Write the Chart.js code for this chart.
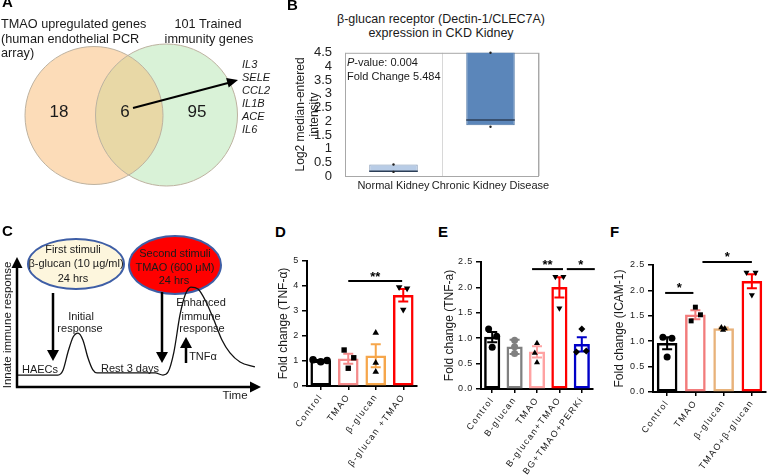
<!DOCTYPE html>
<html>
<head>
<meta charset="utf-8">
<title>TMAO trained immunity figure</title>
<script src="https://cdn.jsdelivr.net/npm/chart.js@4.4.1/dist/chart.umd.min.js"></script>
<style>
  html, body { margin: 0; padding: 0; background: #fff; }
  #fig { position: relative; width: 767px; height: 475px; overflow: hidden;
         font-family: "Liberation Sans", Arial, sans-serif; color: #1a1a1a; }
  #fig canvas { position: absolute; }
  .t { position: absolute; white-space: nowrap; line-height: 1.15; }
  .c { transform: translate(-50%, -50%); text-align: center; }
  .l { transform: translate(0, -50%); }
  .letter { position: absolute; font-weight: bold; font-size: 15px; line-height: 15px; color: #000; }
  .ell { position: absolute; border-radius: 50%; box-sizing: border-box; border: 2px solid #3e5ea6; }
  svg { position: absolute; left: 0; top: 0; }
</style>
</head>
<body>
<div id="fig">
  <!-- panel A -->
  <canvas id="venn" width="260" height="200" style="left:0;top:0"></canvas>
  <div class="t l" style="left:1px;top:24px;font-size:12.7px">TMAO upregulated genes</div>
  <div class="t l" style="left:1px;top:39px;font-size:12.7px">(human endothelial PCR</div>
  <div class="t l" style="left:1px;top:53px;font-size:12.7px">array)</div>
  <div class="t c" style="left:208px;top:24px;font-size:12.7px">101 Trained</div>
  <div class="t c" style="left:209px;top:39px;font-size:12.7px">immunity genes</div>
  <div id="vennNums"></div>
  <div id="geneList"></div>

  <!-- panel B -->
  <canvas id="boxB" width="275" height="155" style="left:288px;top:40px"></canvas>
  <div class="t c" style="left:441px;top:19px;font-size:12.5px">β-glucan receptor (Dectin-1/CLEC7A)</div>
  <div class="t c" style="left:441px;top:33px;font-size:12.5px">expression in CKD Kidney</div>
  <div class="t l" style="left:347px;top:62px;font-size:11px"><i>P</i>-value: 0.004</div>
  <div class="t l" style="left:347px;top:76px;font-size:11px">Fold Change 5.484</div>

  <!-- panel C -->
  <div class="ell" style="left:27px;top:238px;width:98px;height:52px;background:#fdf6dd"></div>
  <div class="ell" style="left:128px;top:235px;width:94px;height:60px;background:#ff0000"></div>
  <canvas id="schem" width="262" height="180" style="left:0;top:228px"></canvas>
  <div class="t c" style="left:73px;top:249px;font-size:11px">First stimuli</div>
  <div class="t c" style="left:76px;top:263px;font-size:11px">β-glucan (10 µg/ml)</div>
  <div class="t c" style="left:73px;top:278px;font-size:11px">24 hrs</div>
  <div class="t c" style="left:175px;top:253px;font-size:11px">Second stimuli</div>
  <div class="t c" style="left:175px;top:267px;font-size:11px">TMAO (600 μM)</div>
  <div class="t c" style="left:174px;top:280px;font-size:11px">24 hrs</div>
  <div class="t c" style="left:81px;top:316px;font-size:11px">Initial</div>
  <div class="t c" style="left:80px;top:328px;font-size:11px">response</div>
  <div class="t c" style="left:201px;top:302px;font-size:11px">Enhanced</div>
  <div class="t c" style="left:201px;top:316px;font-size:11px">immune</div>
  <div class="t c" style="left:202px;top:328px;font-size:11px">response</div>
  <div class="t c" style="left:40px;top:369px;font-size:11px">HAECs</div>
  <div class="t c" style="left:130px;top:368px;font-size:11px">Rest 3 days</div>
  <div class="t c" style="left:203px;top:356px;font-size:11px">TNFα</div>
  <div class="t c" style="left:235px;top:396px;font-size:11.5px">Time</div>
  <div class="t c" style="left:8px;top:325px;font-size:11.5px;transform:translate(-50%,-50%) rotate(-90deg)">Innate immune response</div>

  <!-- panels D, E, F -->
  <canvas id="barD" width="160" height="230" style="left:262px;top:245px"></canvas>
  <canvas id="barE" width="170" height="230" style="left:428px;top:245px"></canvas>
  <canvas id="barF" width="172" height="230" style="left:598px;top:245px"></canvas>

  <div class="letter" style="left:2px;top:-6px">A</div>
  <div class="letter" style="left:287px;top:-3px">B</div>
  <div class="letter" style="left:2px;top:223px">C</div>
  <div class="letter" style="left:275px;top:224px">D</div>
  <div class="letter" style="left:438px;top:224px">E</div>
  <div class="letter" style="left:610px;top:224px">F</div>

  <svg width="767" height="475">
    <g stroke="#000" stroke-width="2" fill="#000">
      <line x1="133" y1="108" x2="228" y2="83"/>
      <polygon points="238,80 228.7,87.6 226.1,78" stroke="none"/>
    </g>
    <g stroke="#000" stroke-width="2.5" fill="#000">
      <line x1="53" y1="293" x2="53" y2="351"/>
      <polygon points="47,350 59,350 53,361" stroke="none"/>
      <line x1="162" y1="292" x2="162" y2="353"/>
      <polygon points="156,352 168,352 162,363" stroke="none"/>
      <line x1="186" y1="363" x2="186" y2="347"/>
      <polygon points="180,348 192,348 186,337" stroke="none"/>
    </g>
  </svg>
</div>

<script>
// ---------- data ----------
// A: Venn of TMAO-upregulated vs trained-immunity genes
const vennCounts = [18, 6, 95];          // TMAO only, shared, trained only
const sharedGenes = ['IL3', 'SELE', 'CCL2', 'IL1B', 'ACE', 'IL6'];

// B: CLEC7A expression box plot
const boxCats = ['Normal Kidney', 'Chronic Kidney Disease'];
const boxLow = [0.15, 1.85];
const boxHigh = [0.42, 4.6];
const boxMedian = [0.17, 2.05];
const whiskerMin = [0.15, 1.8];
const whiskerMax = [0.42, 4.5];
const boxTicks = [0, 0.5, 1, 1.5, 2, 2.5, 3, 3.5, 4, 4.5];

// C: schematic immune response over time
const curveT = [0, 16.8, 18.9, 20.9, 23.0, 25.0, 27.0, 29.1, 31.1, 32.8, 56.6, 59.8,
                61.9, 64.3, 66.8, 68.9, 71.3, 74.2, 77.5, 80.7, 84.0, 87.3, 91.4, 97.5];
const curveResp = [9.2, 9.2, 13.1, 26.9, 38.5, 41.5, 36.2, 22.3, 13.1, 10.8, 10.8, 9.2,
                   11.5, 26.9, 55.4, 70.8, 76.9, 75.4, 65.4, 51.5, 36.2, 26.2, 19.2, 15.4];

// D: TNF-α fold change
const dLabels = ['Control', 'TMAO', 'β-glucan', 'β-glucan +TMAO'];
const dMeans = [1.01, 1.09, 1.21, 3.63];
const dSem = [0.03, 0.2, 0.46, 0.25];
const dPoints = [[1.05, 0.97, 1.02], [1.44, 1.13, 0.71], [2.13, 0.93, 0.57], [3.95, 3.9, 3.05]];
const dTicks = [0, 1, 2, 3, 4, 5];

// E: TNF-a fold change with PERK inhibitor
const eLabels = ['Control', 'B-glucan', 'TMAO', 'B-glucan+TMAO', 'BG+TMAO+PERKi'];
const eMeans = [1.02, 0.83, 0.73, 2.0, 0.88];
const eSem = [0.1, 0.14, 0.11, 0.2, 0.14];
const ePoints = [[1.18, 1.04, 0.82], [0.96, 0.83, 0.7], [0.9, 0.71, 0.52], [2.21, 2.21, 1.59], [1.18, 0.73, 0.75]];
const eTicks = [0, 0.5, 1, 1.5, 2, 2.5];

// F: ICAM-1 fold change
const fLabels = ['Control', 'TMAO', 'β-glucan', 'TMAO+β-glucan'];
const fMeans = [0.96, 1.52, 1.25, 2.18];
const fSem = [0.12, 0.09, 0.02, 0.14];
const fPoints = [[1.08, 1.06, 0.69], [1.67, 1.52, 1.4], [1.27, 1.25, 1.22], [2.35, 2.35, 1.91]];
const fTicks = [0, 0.5, 1, 1.5, 2, 2.5];

// ---------- defaults ----------
const FONT = '"Liberation Sans", Arial, sans-serif';
Chart.defaults.font.family = FONT;
Chart.defaults.color = '#1a1a1a';
Chart.defaults.animation = false;
Chart.defaults.responsive = false;
Chart.defaults.plugins.legend.display = false;
Chart.defaults.plugins.tooltip.enabled = false;

// ---------- panel A ----------
// circle centres are scatter points (zero radius); the plugin draws the discs in scale units
const vennCircles = {
  id: 'vennCircles',
  beforeDatasetsDraw(chart) {
    const ctx = chart.ctx, sx = chart.scales.x;
    const pts = chart.getDatasetMeta(0).data;
    const raw = chart.data.datasets[0].data;
    const disc = i => {
      const r = sx.getPixelForValue(raw[i].x + raw[i].r) - pts[i].x;
      ctx.beginPath(); ctx.arc(pts[i].x, pts[i].y, r, 0, Math.PI * 2);
    };
    const fills = ['#fcdcb8', '#d9f2d7'];
    ctx.save();
    pts.forEach((p, i) => { disc(i); ctx.fillStyle = fills[i]; ctx.fill(); });
    ctx.save(); disc(0); ctx.clip(); disc(1); ctx.fillStyle = '#e8d8a6'; ctx.fill(); ctx.restore();
    ctx.strokeStyle = '#bdb2a0'; ctx.lineWidth = 1;
    pts.forEach((p, i) => { disc(i); ctx.stroke(); });
    ctx.restore();
  }
};

new Chart(document.getElementById('venn'), {
  type: 'scatter',
  data: { datasets: [{ data: [{ x: 94, y: 115.5, r: 69 }, { x: 166.5, y: 115, r: 71 }], pointRadius: 0 }] },
  options: {
    layout: { padding: 0 },
    scales: {
      x: { display: false, min: 0, max: 260 },
      y: { display: false, min: 0, max: 200, reverse: true }
    }
  },
  plugins: [vennCircles]
});

const numX = [59, 125, 197];
document.getElementById('vennNums').innerHTML = vennCounts.map((n, i) =>
  `<div class="t c" style="left:${numX[i]}px;top:112px;font-size:17px">${n}</div>`).join('');
document.getElementById('geneList').innerHTML = sharedGenes.map((g, i) =>
  `<div class="t l" style="left:242px;top:${64 + i * 12.9}px;font-size:11px;font-style:italic">${g}</div>`).join('');

// ---------- panel B ----------
const boxParts = {
  id: 'boxParts',
  beforeDatasetsDraw(chart) {
    const { ctx, chartArea: a } = chart;
    ctx.save();
    ctx.strokeStyle = '#a8a8a8'; ctx.lineWidth = 1;
    ctx.strokeRect(a.left + 0.5, a.top + 0.5, a.width - 1, a.height);
    ctx.restore();
  },
  afterDatasetsDraw(chart) {
    const ctx = chart.ctx, y = chart.scales.y, a = chart.chartArea;
    chart.getDatasetMeta(0).data.forEach((bar, i) => {
      const half = bar.width / 2;
      ctx.save();
      ctx.beginPath(); ctx.rect(a.left, a.top, a.width, a.height); ctx.clip();
      ctx.strokeStyle = '#2c3e57'; ctx.lineWidth = 1.5;
      const ym = y.getPixelForValue(boxMedian[i]);
      ctx.beginPath(); ctx.moveTo(bar.x - half, ym); ctx.lineTo(bar.x + half, ym); ctx.stroke();
      ctx.restore();
      ctx.save();
      ctx.fillStyle = '#222';
      [whiskerMin[i], whiskerMax[i]].forEach(v => {
        ctx.beginPath(); ctx.arc(bar.x, y.getPixelForValue(v), 1.2, 0, Math.PI * 2); ctx.fill();
      });
      ctx.restore();
    });
  }
};

new Chart(document.getElementById('boxB'), {
  type: 'bar',
  data: {
    labels: boxCats,
    datasets: [
      { data: boxLow.map((v, i) => [v, boxHigh[i]]),
        backgroundColor: ['#b8cce6', '#5b86ba'], borderColor: ['#8097b5', '#4c74a4'],
        borderWidth: 1, borderSkipped: false, barPercentage: 0.5, categoryPercentage: 1 }
    ]
  },
  options: {
    layout: { padding: { top: 12, right: 24, left: 0, bottom: 0 } },
    scales: {
      x: {
        grid: { offset: true, color: '#d8d8d8', drawTicks: false },
        border: { display: false },
        ticks: { font: { size: 11 }, padding: 3, color: '#222', maxRotation: 0, minRotation: 0, autoSkip: false },
        afterFit: s => { s.height = 19; }
      },
      y: {
        min: 0, max: 4.5,
        afterBuildTicks: s => { s.ticks = boxTicks.map(v => ({ value: v })); },
        ticks: { font: { size: 13 }, padding: 5, color: '#222', autoSkip: false, callback: v => String(v) },
        grid: { display: false },
        border: { display: false },
        title: { display: true, text: ['Log2 median-entered', 'intensity'], font: { size: 12 },
                 color: '#222', padding: { top: 5, bottom: 0 } },
        afterFit: s => { s.width = 57; }
      }
    }
  },
  plugins: [boxParts]
});

// ---------- panel C ----------
const axisArrows = {
  id: 'axisArrows',
  afterDraw(chart) {
    const { ctx, chartArea: a } = chart;
    ctx.save();
    ctx.strokeStyle = '#000'; ctx.fillStyle = '#000'; ctx.lineWidth = 2.5;
    ctx.beginPath();
    ctx.moveTo(a.left, a.bottom); ctx.lineTo(a.left, a.top + 10);
    ctx.moveTo(a.left - 1.2, a.bottom); ctx.lineTo(a.right - 10, a.bottom);
    ctx.stroke();
    ctx.beginPath(); ctx.moveTo(a.left - 5.5, a.top + 11); ctx.lineTo(a.left + 5.5, a.top + 11); ctx.lineTo(a.left, a.top); ctx.fill();
    ctx.beginPath(); ctx.moveTo(a.right - 11, a.bottom - 5.5); ctx.lineTo(a.right - 11, a.bottom + 5.5); ctx.lineTo(a.right, a.bottom); ctx.fill();
    ctx.restore();
  }
};

new Chart(document.getElementById('schem'), {
  type: 'scatter',
  data: { datasets: [{
    data: curveT.map((t, i) => ({ x: t, y: curveResp[i] })),
    showLine: true, pointRadius: 0, borderColor: '#111', borderWidth: 1.3,
    cubicInterpolationMode: 'monotone', clip: false
  }]},
  options: {
    layout: { padding: { left: 17, top: 29, right: 1, bottom: 21 } },
    scales: {
      x: { type: 'linear', display: false, min: 0, max: 100 },
      y: { display: false, min: 0, max: 100 }
    }
  },
  plugins: [axisArrows]
});

// ---------- panels D, E, F ----------
// groups sit at integer positions of a linear x scale, so bars, dots and significance bars share one mapping
function barPanel(canvasId, p) {
  const n = p.labels.length;
  const datasets = [{
    type: 'bar', data: p.means.map((m, i) => ({ x: i, y: m })),
    backgroundColor: '#fff', borderColor: p.colors,
    borderWidth: 2.5, borderSkipped: false, barThickness: p.barW, order: 2
  }];
  p.points.forEach((vals, i) => {
    const down = p.shapes[i] === 'down';
    datasets.push({
      type: 'scatter', order: 0, clip: false,
      data: vals.map((v, j) => ({ x: i + p.jitter[i][j], y: v })),
      pointStyle: down ? 'triangle' : p.shapes[i],
      pointRotation: down ? 180 : 0,
      pointRadius: p.pointR,
      pointBackgroundColor: p.pointColors[i], pointBorderWidth: 0
    });
  });

  const extras = {
    id: 'extras',
    afterLayout(chart) {
      ['x', 'y'].forEach(k => {
        const s = chart.scales[k];
        if (s.__spaced) return;
        const draw = s.drawLabels;
        s.drawLabels = function (area) {
          this.ctx.letterSpacing = k === 'x' ? '1.4px' : '0.8px';
          draw.call(this, area);
          this.ctx.letterSpacing = '0px';
        };
        s.__spaced = true;
      });
    },
    afterDatasetDraw(chart, args) {
      if (args.index !== 0) return;
      const ctx = chart.ctx, y = chart.scales.y;
      chart.getDatasetMeta(0).data.forEach((bar, i) => {
        const yt = y.getPixelForValue(p.means[i] + p.sem[i]);
        const yb = y.getPixelForValue(p.means[i] - p.sem[i]);
        ctx.save();
        ctx.strokeStyle = p.colors[i]; ctx.lineWidth = 2;
        ctx.beginPath();
        ctx.moveTo(bar.x, yt); ctx.lineTo(bar.x, yb);
        ctx.moveTo(bar.x - 5, yt); ctx.lineTo(bar.x + 5, yt);
        ctx.moveTo(bar.x - 5, yb); ctx.lineTo(bar.x + 5, yb);
        ctx.stroke();
        ctx.restore();
      });
    },
    afterDraw(chart) {
      const ctx = chart.ctx, xs = chart.scales.x, y = chart.scales.y;
      p.sigFrom.forEach((a, k) => {
        const x1 = xs.getPixelForValue(a), x2 = xs.getPixelForValue(p.sigTo[k]);
        const yy = y.getPixelForValue(p.sigY[k]);
        ctx.save();
        ctx.strokeStyle = '#000'; ctx.fillStyle = '#000'; ctx.lineWidth = 2;
        ctx.beginPath(); ctx.moveTo(x1, yy); ctx.lineTo(x2, yy); ctx.stroke();
        ctx.font = 'bold 13px ' + FONT; ctx.textAlign = 'center';
        ctx.fillText(p.sigText[k], (x1 + x2) / 2, yy - 0.5);
        ctx.restore();
      });
    }
  };

  return new Chart(document.getElementById(canvasId), {
    type: 'bar',
    data: { datasets },
    options: {
      layout: { padding: { top: p.padTop, right: p.padRight, left: 0, bottom: 0 } },
      scales: {
        x: {
          type: 'linear', min: -0.5, max: n - 0.5, offset: false,
          afterBuildTicks: s => { s.ticks = p.labels.map((_, i) => ({ value: i })); },
          grid: { offset: false, drawOnChartArea: false, tickLength: 4, color: '#000', lineWidth: 1.5 },
          border: { color: '#000', width: 2 },
          ticks: { font: { size: 9 }, minRotation: 53, maxRotation: 53, padding: 2, autoSkip: false,
                   color: '#1a1a1a', callback: v => p.labels[Math.round(v)] },
          afterFit: s => { s.height = p.xH; }
        },
        y: {
          min: 0, max: p.yMax,
          afterBuildTicks: s => { s.ticks = p.ticks.map(v => ({ value: v })); },
          ticks: { font: { size: 9 }, padding: 3, color: '#1a1a1a', autoSkip: false, callback: p.fmt },
          grid: { drawOnChartArea: false, tickLength: 5, color: '#000', lineWidth: 1.5 },
          border: { color: '#000', width: 2 },
          title: { display: true, text: p.yTitle, font: { size: 12 }, color: '#1a1a1a', padding: { top: 14, bottom: 0 } },
          afterFit: s => { s.width = p.yW; }
        }
      }
    },
    plugins: [extras]
  });
}

barPanel('barD', {
  labels: dLabels, means: dMeans, sem: dSem, points: dPoints, ticks: dTicks, yMax: 5,
  fmt: v => String(v), yTitle: 'Fold change (TNF-α)',
  colors: ['#000000', '#f48a8a', '#f6a64b', '#ff0000'],
  pointColors: ['#000', '#000', '#000', '#000'],
  shapes: ['circle', 'rect', 'triangle', 'down'], pointR: 3.8,
  jitter: [[-0.28, 0, 0.23], [-0.15, 0.2, 0], [0, 0, 0], [-0.15, 0.14, 0]],
  sigFrom: [1.0], sigTo: [2.96], sigY: [4.2], sigText: ['**'],
  barW: 20, padTop: 16, padRight: 5, yW: 45, xH: 89
});

barPanel('barE', {
  labels: eLabels, means: eMeans, sem: eSem, points: ePoints, ticks: eTicks, yMax: 2.5,
  fmt: v => v.toFixed(1), yTitle: 'Fold change (TNF-a)',
  colors: ['#000000', '#808080', '#ffa3a3', '#ff0000', '#0000c8'],
  pointColors: ['#000', '#808080', '#000', '#000', '#000'],
  shapes: ['circle', 'circle', 'triangle', 'down', 'rectRot'], pointR: 3.5,
  jitter: [[-0.16, 0.2, 0], [0, 0, 0], [0, -0.1, 0], [-0.18, 0.18, 0], [0, -0.24, 0.2]],
  sigFrom: [1.78, 3.33], sigTo: [3.16, 4.58], sigY: [2.36, 2.36], sigText: ['**', '*'],
  barW: 15.5, padTop: 17, padRight: 5, yW: 53, xH: 86
});

barPanel('barF', {
  labels: fLabels, means: fMeans, sem: fSem, points: fPoints, ticks: fTicks, yMax: 2.5,
  fmt: v => v.toFixed(1), yTitle: 'Fold change (ICAM-1)',
  colors: ['#000000', '#f27c7c', '#e8b27a', '#ff0000'],
  pointColors: ['#000', '#000', '#000', '#000'],
  shapes: ['circle', 'rect', 'triangle', 'down'], pointR: 3.5,
  jitter: [[-0.15, 0.17, 0], [0, 0.18, -0.15], [-0.08, 0.04, -0.02], [-0.19, 0.13, 0]],
  sigFrom: [-0.07, 1.25], sigTo: [0.93, 3.0], sigY: [1.95, 2.56], sigText: ['*', '*'],
  barW: 20, padTop: 20, padRight: 4, yW: 55, xH: 83
});
</script>
</body>
</html>
